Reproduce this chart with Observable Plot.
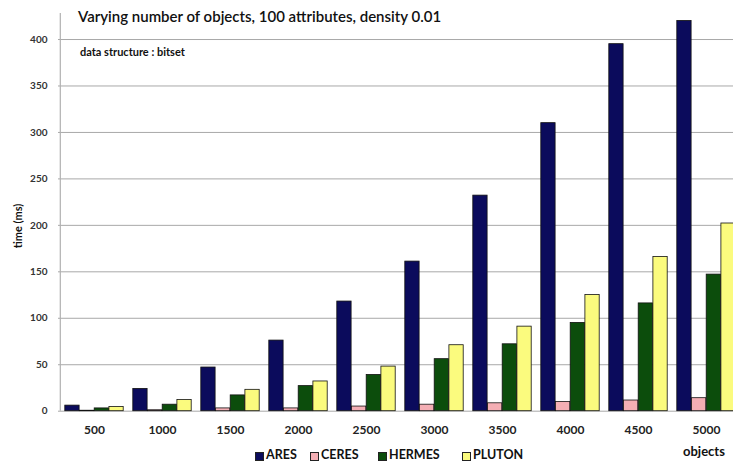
<!DOCTYPE html>
<html>
<head>
<meta charset="utf-8">
<script src="https://cdn.jsdelivr.net/npm/d3@7"></script>
<script src="https://cdn.jsdelivr.net/npm/@observablehq/plot@0.6"></script>
<style>
  html, body { margin: 0; padding: 0; background: #fff; overflow: hidden; width: 733px; height: 468px; }
  #wrap { position: relative; width: 733px; height: 468px; overflow: hidden; font-family: Lato, "Open Sans", sans-serif; }
  .ov { position: absolute; white-space: nowrap; color: #111; }
</style>
</head>
<body>
<div id="wrap"></div>
<script>
const objects = ["500","1000","1500","2000","2500","3000","3500","4000","4500","5000"];
const series = ["ARES","CERES","HERMES","PLUTON"];
const ares   = [6, 24, 47, 76, 118, 161, 232, 310, 395, 420];
const ceres  = [0.5, 1, 3, 3, 5, 7, 8.5, 10, 11.5, 14];
const hermes = [3, 7, 17, 27, 39, 56, 72, 95, 116, 147];
const pluton = [4.5, 12, 23, 32, 48, 71, 91, 125, 166, 202];
const colors = ["#0b0b5c", "#f4aeb4", "#0c4d0c", "#fbfb7e"];
const yTicks = [0, 50, 100, 150, 200, 250, 300, 350, 400];

const values = [ares, ceres, hermes, pluton];
const rows = objects.flatMap((o, i) => series.map((s, j) => ({objects: o, series: s, time: values[j][i]})));

const step = 68.4, lead = 4.8, bw = 14.7;
const barMarks = series.map((s, j) => Plot.barY(rows.filter(d => d.series === s), {
  x: "objects", y: "time", fill: "series",
  stroke: "#111", strokeWidth: 0.8,
  insetLeft: lead + bw * j, insetRight: step - lead - bw * (j + 1)
}));

const chart = Plot.plot({
  width: 742, height: 468,
  marginLeft: 58, marginRight: 0, marginTop: 13, marginBottom: 57.3,
  style: {fontFamily: "Lato, 'Open Sans', sans-serif", background: "#fff", maxWidth: "none", overflow: "visible"},
  x: {domain: objects, padding: 0, label: null, tickSize: 0, tickPadding: 14},
  y: {domain: [0, 428], ticks: yTicks, label: null, tickSize: 0},
  color: {domain: series, range: colors},
  marks: [
    Plot.ruleY(yTicks.filter(t => t > 0), {stroke: "#a8a8a8", strokeWidth: 1}),
    Plot.ruleY([0], {stroke: "#a8a8a8", strokeWidth: 1}),
    Plot.ruleX([objects[0]], {dx: -step / 2, y1: 0, y2: 428, stroke: "#b0b0b0", strokeWidth: 1.2}),
    Plot.tickY(yTicks, {x: objects[0], dx: -step / 2 - 2, y: d => d, stroke: "#b0b0b0"}),
    ...barMarks,
    Plot.axisX({tickSize: 0, tickPadding: 14, fontSize: 12, fontWeight: "bold", fill: "#222", label: null}),
    Plot.axisY(yTicks, {tickSize: 0, tickPadding: 11, fontSize: 10, fontWeight: "bold", fill: "#333", label: null})
  ]
});

const wrap = document.getElementById("wrap");
wrap.appendChild(chart);

function ov(text, css) {
  const d = document.createElement("div");
  d.className = "ov";
  d.textContent = text;
  Object.assign(d.style, css);
  wrap.appendChild(d);
  return d;
}
ov("Varying number of objects, 100 attributes, density 0.01", {left: "78px", top: "7px", fontSize: "15px", fontWeight: "600"});
ov("data structure : bitset", {left: "80px", top: "45px", fontSize: "11px", fontWeight: "bold"});
ov("time (ms)", {left: "17px", top: "226px", fontSize: "11px", fontWeight: "bold", transform: "translate(-50%,-50%) rotate(-90deg)"});
ov("objects", {left: "683px", top: "443px", fontSize: "13px", fontWeight: "bold"});

const legendX = [255, 310, 378, 462];
series.forEach((s, j) => {
  const sw = document.createElement("div");
  Object.assign(sw.style, {position: "absolute", left: legendX[j] + "px", top: "452px", width: "7px", height: "7px",
    background: colors[j], border: "1px solid #222"});
  wrap.appendChild(sw);
  ov(s, {left: (legendX[j] + 11) + "px", top: "447px", fontSize: "12.5px", fontWeight: "bold"});
});
</script>
</body>
</html>
